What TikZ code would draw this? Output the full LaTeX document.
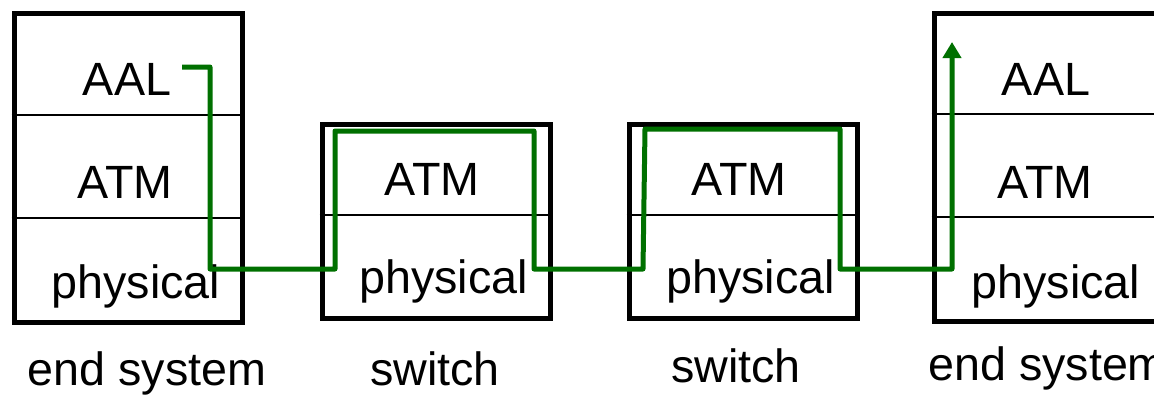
\documentclass[tikz,border=0pt]{standalone}
\usepackage{fontspec}
\setmainfont{Liberation Sans}
\usetikzlibrary{arrows.meta}
\definecolor{rgreen}{RGB}{0,112,0}
\tikzset{box/.style = {draw, line width=3.75pt, minimum width=171pt, inner sep=0}}
\tikzset{divider/.style = {draw, line width=1.5pt}}
\tikzset{layer/.style = {anchor=base, inner sep=0, font=\fontsize{35}{42}\selectfont}}
\tikzset{route/.style = {draw=rgreen, line width=3.75pt, line join=round,
                         -{Triangle[length=12pt, width=13.5pt]}}}

\begin{document}
\begin{tikzpicture}[x=0.75pt, y=-0.75pt]
  \useasboundingbox (0,0) rectangle (1154,394);
  % boxes
  \node[box, minimum height=231.75pt] (es1) at (128,167.5) {};
  \node[box, minimum height=145.5pt] (sw1) at (436,221) {};
  \node[box, minimum height=145.5pt] (sw2) at (743,221.5) {};
  \node[box, minimum height=231pt] (es2) at (1048,167) {};
  % layer borders
  \draw[divider] (es1.west |- 0,115) -- (es1.east |- 0,115);
  \draw[divider] (es1.west |- 0,218) -- (es1.east |- 0,218);
  \draw[divider] (sw1.west |- 0,215) -- (sw1.east |- 0,215);
  \draw[divider] (sw2.west |- 0,215) -- (sw2.east |- 0,215);
  \draw[divider] (es2.west |- 0,114) -- (es2.east |- 0,114);
  \draw[divider] (es2.west |- 0,217) -- (es2.east |- 0,217);
  % layer names
  \node[layer] (es1aal) at (127,95) {AAL};
  \node[layer] (es1atm) at (125,198) {ATM};
  \node[layer] (es1phy) at (136,298) {physical};
  \node[layer] (sw1atm) at (432,195) {ATM};
  \node[layer] (sw1phy) at (443.5,293) {physical};
  \node[layer] (sw2atm) at (739,195) {ATM};
  \node[layer] (sw2phy) at (750.5,293) {physical};
  \node[layer] (es2aal) at (1046,95) {AAL};
  \node[layer] (es2atm) at (1045,198) {ATM};
  \node[layer] (es2phy) at (1056,298) {physical};
  % captions
  \node[layer] (es1cap) at (147,385) {end system};
  \node[layer] (sw1cap) at (435,385) {switch};
  \node[layer] (sw2cap) at (736,382) {switch};
  \node[layer, anchor=base west] (es2cap) at (928,380) {end system};
  % route of the cells
  \coordinate (src) at (182,67);
  \coordinate (p1) at (210,67);
  \coordinate (p2) at (210,269);
  \coordinate (p3) at (335,269);
  \coordinate (p4) at (335,131);
  \coordinate (p5) at (534,131);
  \coordinate (p6) at (534,269);
  \coordinate (p7) at (643,269);
  \coordinate (p8) at (645,129);
  \coordinate (p9) at (840,129);
  \coordinate (p10) at (840,269);
  \coordinate (p11) at (952,269);
  \coordinate (dst) at (952,42);
  \draw[route] (src) -- (p1) -- (p2) -- (p3) -- (p4) -- (p5) -- (p6)
    -- (p7) -- (p8) -- (p9) -- (p10) -- (p11) -- (dst);
\end{tikzpicture}
\end{document}
